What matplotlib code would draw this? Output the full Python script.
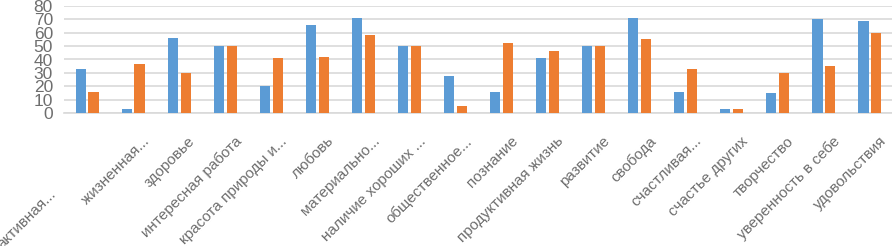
import numpy as np
import matplotlib.pyplot as plt
import matplotlib.transforms as mtransforms

plt.rcParams['font.family'] = ['Liberation Sans', 'DejaVu Sans']

categories = [
    "активная...", "жизненная...", "здоровье", "интересная работа",
    "красота природы и...", "любовь", "материально...", "наличие хороших ...",
    "общественное...", "познание", "продуктивная жизнь", "развитие",
    "свобода", "счастливая...", "счастье других", "творчество",
    "уверенность в себе", "удовольствия",
]
series_blue = [33, 3, 56, 50, 20, 66, 71, 50, 28, 16, 41, 50, 71, 16, 3, 15, 70, 69]
series_orange = [16, 37, 30, 50, 41, 42, 58, 50, 5, 52, 46, 50, 55, 33, 3, 30, 35, 60]
y_ticks = [0, 10, 20, 30, 40, 50, 60, 70, 80]

W, H = 892, 246
fig = plt.figure(figsize=(W / 100, H / 100), dpi=100)
ax = fig.add_axes([64 / W, (H - 113) / H, 829 / W, 107 / H])

x = np.arange(len(categories))
ax.bar(x - 0.14, series_blue, width=0.22, color="#5B9BD5", zorder=3)
ax.bar(x + 0.14, series_orange, width=0.22, color="#ED7D31", zorder=3)

ax.set_xlim(-0.5, len(categories) - 0.5)
ax.set_ylim(0, 80)
ax.set_yticks(y_ticks)
ax.set_yticklabels([str(v) for v in y_ticks], fontsize=12.5, color="#6e6e6e")
ax.tick_params(axis="y", length=0, pad=8)
ax.yaxis.grid(True, color="#d9d9d9", linewidth=1.2, zorder=0)
for s in ["top", "right", "left"]:
    ax.spines[s].set_visible(False)
ax.spines["bottom"].set_color("#d9d9d9")
ax.spines["bottom"].set_linewidth(1.2)

ax.set_xticks(x)
ax.set_xticklabels(categories, rotation=45, ha="right", va="top",
                   rotation_mode="anchor", fontsize=11, color="#6e6e6e")
ax.tick_params(axis="x", length=0, pad=0)
for i, lbl in enumerate(ax.get_xticklabels()):
    # the first label is pushed down-left (clipped at the chart edge)
    dx, dy = (-38, -74) if i == 0 else (9, -21)
    offset = mtransforms.ScaledTranslation(dx / 100, dy / 100, fig.dpi_scale_trans)
    lbl.set_transform(lbl.get_transform() + offset)

fig.savefig("out.png", dpi=100)
